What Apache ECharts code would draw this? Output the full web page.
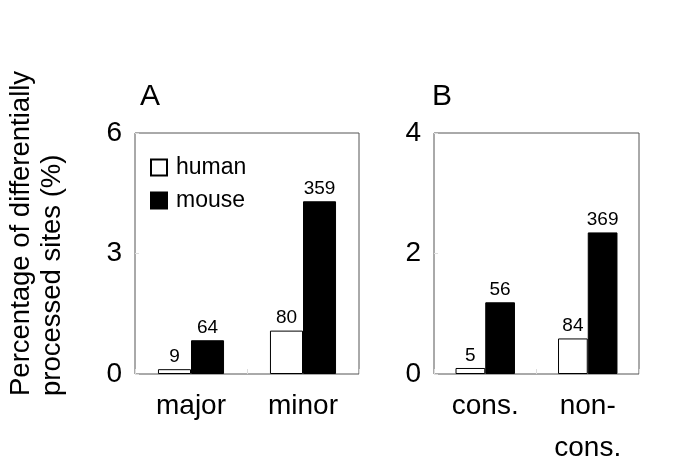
<!DOCTYPE html>
<html>
<head>
<meta charset="utf-8">
<script src="https://cdn.jsdelivr.net/npm/echarts@6/dist/echarts.min.js"></script>
<style>
html,body{margin:0;padding:0;background:#fff;}
#chart{width:685px;height:467px;}
</style>
</head>
<body>
<div id="chart"></div>
<script>
// Panel A data
var catsA = ['major', 'minor'];
var humanA = [0.12, 1.08];
var mouseA = [0.84, 4.30];
var humanCountA = [9, 80];
var mouseCountA = [64, 359];
var ticksA = [0, 3, 6];

// Panel B data
var catsB = ['cons.', 'non-\ncons.'];
var humanB = [0.10, 0.59];
var mouseB = [1.19, 2.35];
var humanCountB = [5, 84];
var mouseCountB = [56, 369];
var ticksB = [0, 2, 4];

var FONT = '"Liberation Sans", Arial, sans-serif';

function lbl(counts) {
  return {
    show: true, position: 'top', distance: 3,
    fontFamily: FONT, fontSize: 19, color: '#000',
    formatter: function (p) { return String(counts[p.dataIndex]); }
  };
}

function xAxis(idx, cats) {
  return {
    type: 'category', gridIndex: idx, data: cats,
    axisLine: { show: false },
    axisTick: { show: true, inside: true, length: 5, lineStyle: { color: '#ddd' } },
    axisLabel: { fontFamily: FONT, fontSize: 28, color: '#000', margin: 11, lineHeight: 42 }
  };
}
function yAxis(idx, ticks) {
  return {
    type: 'value', gridIndex: idx, min: ticks[0], max: ticks[ticks.length - 1],
    interval: ticks[1] - ticks[0],
    axisLine: { show: false },
    splitLine: { show: false },
    axisTick: { show: true, inside: true, length: 4, lineStyle: { color: '#ddd' } },
    axisLabel: { fontFamily: FONT, fontSize: 28, color: '#000', margin: 13 }
  };
}

var chart = echarts.init(document.getElementById('chart'), null, { renderer: 'canvas' });
chart.setOption({
  animation: false,
  backgroundColor: '#fff',
  grid: [
    { left: 135, top: 133, width: 224, height: 241, show: true, borderColor: '#555', borderWidth: 1, backgroundColor: 'transparent', outerBoundsMode: 'none', containLabel: false },
    { left: 434, top: 133, width: 205, height: 241, show: true, borderColor: '#555', borderWidth: 1, backgroundColor: 'transparent', outerBoundsMode: 'none', containLabel: false }
  ],
  legend: {
    data: ['human', 'mouse'],
    orient: 'vertical', left: 145, top: 151,
    icon: 'rect', itemWidth: 16, itemHeight: 16, itemGap: 10,
    textStyle: { fontFamily: FONT, fontSize: 23, color: '#000', padding: [0, 0, 0, 4] },
    selectedMode: false
  },
  xAxis: [xAxis(0, catsA), xAxis(1, catsB)],
  yAxis: [yAxis(0, ticksA), yAxis(1, ticksB)],
  series: [
    { name: 'human', type: 'bar', xAxisIndex: 0, yAxisIndex: 0, data: humanA, barGap: '0%', barCategoryGap: '41%',
      itemStyle: { color: '#fff', borderColor: '#000', borderWidth: 1 }, label: lbl(humanCountA) },
    { name: 'mouse', type: 'bar', xAxisIndex: 0, yAxisIndex: 0, data: mouseA, barGap: '0%', barCategoryGap: '41%',
      itemStyle: { color: '#000', borderColor: '#000', borderWidth: 1 }, label: lbl(mouseCountA) },
    { name: 'human', type: 'bar', xAxisIndex: 1, yAxisIndex: 1, data: humanB, barGap: '0%', barCategoryGap: '42%',
      itemStyle: { color: '#fff', borderColor: '#000', borderWidth: 1 }, label: lbl(humanCountB) },
    { name: 'mouse', type: 'bar', xAxisIndex: 1, yAxisIndex: 1, data: mouseB, barGap: '0%', barCategoryGap: '42%',
      itemStyle: { color: '#000', borderColor: '#000', borderWidth: 1 }, label: lbl(mouseCountB) }
  ],
  graphic: [
    { type: 'text', x: 6, y: 396, rotation: Math.PI / 2,
      style: { text: 'Percentage of differentially\nprocessed sites (%)', fontFamily: FONT, fontSize: 27.5, lineHeight: 31,
               fill: '#000', textAlign: 'left', textVerticalAlign: 'top' } },
    { type: 'text', x: 140, y: 97, style: { text: 'A', fontFamily: FONT, fontSize: 30, fill: '#000', textAlign: 'left', textVerticalAlign: 'middle' } },
    { type: 'text', x: 432, y: 97, style: { text: 'B', fontFamily: FONT, fontSize: 30, fill: '#000', textAlign: 'left', textVerticalAlign: 'middle' } }
  ]
});
</script>
</body>
</html>
